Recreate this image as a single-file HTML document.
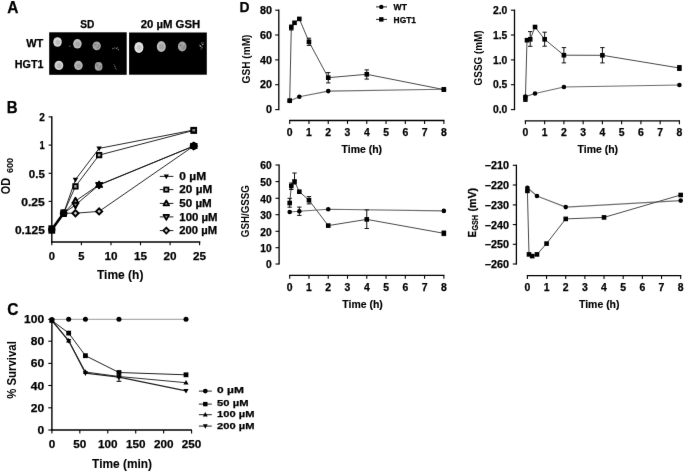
<!DOCTYPE html>
<html><head><meta charset="utf-8"><title>Figure</title>
<style>
html,body{margin:0;padding:0;background:#fff;}
svg{display:block;font-family:"Liberation Sans", sans-serif;}
#w{filter:grayscale(1);width:685px;height:472px;}
</style></head>
<body><div id="w">
<svg width="685" height="472" viewBox="0 0 685 472">
<defs><filter id="gb" x="0" y="0" width="100%" height="100%" filterUnits="userSpaceOnUse" color-interpolation-filters="sRGB"><feConvolveMatrix order="3" kernelMatrix="0.0028 0.0470 0.0028 0.0470 0.8008 0.0470 0.0028 0.0470 0.0028" edgeMode="duplicate"/></filter></defs>
<g filter="url(#gb)">
<rect x="0" y="0" width="685" height="472" fill="#fff"/>
<text x="7.2" y="12.7" font-size="16.8" font-weight="bold" fill="#000" stroke="#000" stroke-width="0.25" textLength="11.2" lengthAdjust="spacingAndGlyphs">A</text>
<text x="80.3" y="28.1" font-size="11.2" font-weight="bold" fill="#000" stroke="#000" stroke-width="0.25" textLength="14.1" lengthAdjust="spacingAndGlyphs">SD</text>
<text x="140.7" y="27.9" font-size="11.2" font-weight="bold" fill="#000" stroke="#000" stroke-width="0.25" textLength="59.5" lengthAdjust="spacingAndGlyphs">20 µM GSH</text>
<text x="26.2" y="46.7" font-size="11.5" font-weight="bold" fill="#000" stroke="#000" stroke-width="0.25" textLength="17.2" lengthAdjust="spacingAndGlyphs">WT</text>
<text x="14.8" y="67.7" font-size="11.5" font-weight="bold" fill="#000" stroke="#000" stroke-width="0.25" textLength="28.6" lengthAdjust="spacingAndGlyphs">HGT1</text>
<rect x="49.2" y="32.3" width="77.5" height="42.5" fill="#000"/>
<rect x="129.1" y="32.5" width="77.7" height="42.2" fill="#000"/>
<defs><filter id="sb" x="-50%" y="-50%" width="200%" height="200%"><feGaussianBlur stdDeviation="0.45"/></filter></defs>
<g filter="url(#sb)">
<ellipse cx="57.5" cy="42" rx="4.3" ry="4.8" fill="#d8d8d8"/>
<ellipse cx="57.8" cy="42.3" rx="2.37" ry="2.64" fill="#bcbcbc"/>
<ellipse cx="77.4" cy="43.8" rx="4.3" ry="4.8" fill="#bdbdbd"/>
<ellipse cx="77.7" cy="44.1" rx="2.37" ry="2.64" fill="#a6a6a6"/>
<ellipse cx="96.7" cy="45.8" rx="4.2" ry="4.4" fill="#a2a2a2"/>
<ellipse cx="97" cy="46.1" rx="2.31" ry="2.42" fill="#929292"/>
<circle cx="94.9" cy="44.6" r="0.9" fill="#808080"/>
<circle cx="98.2" cy="47.4" r="0.8" fill="#858585"/>
<circle cx="97.9" cy="43.8" r="0.7" fill="#b8b8b8"/>
<circle cx="95.5" cy="48" r="0.7" fill="#b0b0b0"/>
<circle cx="96.9" cy="45.9" r="0.8" fill="#aaaaaa"/>
<circle cx="94.5" cy="46.8" r="0.6" fill="#b2b2b2"/>
<circle cx="99" cy="45.5" r="0.6" fill="#7a7a7a"/>
<ellipse cx="58.9" cy="65.4" rx="4.4" ry="4.7" fill="#d2d2d2"/>
<ellipse cx="59.2" cy="65.7" rx="2.42" ry="2.59" fill="#b8b8b8"/>
<ellipse cx="78.4" cy="65.4" rx="4.3" ry="4.6" fill="#b5b5b5"/>
<ellipse cx="78.7" cy="65.7" rx="2.37" ry="2.53" fill="#a0a0a0"/>
<ellipse cx="98.6" cy="66.4" rx="3.9" ry="4.3" fill="#9e9e9e"/>
<ellipse cx="98.9" cy="66.7" rx="2.15" ry="2.37" fill="#8e8e8e"/>
<circle cx="96.8" cy="65.2" r="0.9" fill="#808080"/>
<circle cx="100.1" cy="68" r="0.8" fill="#858585"/>
<circle cx="99.8" cy="64.4" r="0.7" fill="#b8b8b8"/>
<circle cx="97.4" cy="68.6" r="0.7" fill="#b0b0b0"/>
<circle cx="98.8" cy="66.5" r="0.8" fill="#aaaaaa"/>
<circle cx="96.4" cy="67.4" r="0.6" fill="#b2b2b2"/>
<circle cx="100.9" cy="66.1" r="0.6" fill="#7a7a7a"/>
<ellipse cx="138.9" cy="47.4" rx="4.5" ry="5.5" fill="#e2e2e2"/>
<ellipse cx="139.2" cy="47.7" rx="2.48" ry="3.03" fill="#cacaca"/>
<ellipse cx="161.3" cy="46.5" rx="4.5" ry="5.4" fill="#b9b9b9"/>
<ellipse cx="161.6" cy="46.8" rx="2.48" ry="2.97" fill="#a4a4a4"/>
<ellipse cx="182.2" cy="46.5" rx="4.3" ry="5" fill="#a0a0a0"/>
<ellipse cx="182.5" cy="46.8" rx="2.37" ry="2.75" fill="#909090"/>
<circle cx="180.4" cy="45.3" r="0.9" fill="#808080"/>
<circle cx="183.7" cy="48.1" r="0.8" fill="#858585"/>
<circle cx="183.4" cy="44.5" r="0.7" fill="#b8b8b8"/>
<circle cx="181" cy="48.7" r="0.7" fill="#b0b0b0"/>
<circle cx="182.4" cy="46.6" r="0.8" fill="#aaaaaa"/>
<circle cx="180" cy="47.5" r="0.6" fill="#b2b2b2"/>
<circle cx="184.5" cy="46.2" r="0.6" fill="#7a7a7a"/>
<circle cx="112.9" cy="48.6" r="0.8" fill="#6a6a6a"/>
<circle cx="114.6" cy="48" r="0.7" fill="#5a5a5a"/>
<circle cx="116.6" cy="48.4" r="0.8" fill="#777"/>
<circle cx="118.4" cy="49.6" r="0.8" fill="#6a6a6a"/>
<circle cx="117.6" cy="47.4" r="0.5" fill="#555"/>
<circle cx="114" cy="64.3" r="0.6" fill="#555"/>
<circle cx="114.9" cy="66.3" r="0.8" fill="#6a6a6a"/>
<circle cx="115.6" cy="68.2" r="0.7" fill="#5c5c5c"/>
<circle cx="116.4" cy="69.4" r="0.5" fill="#4a4a4a"/>
<circle cx="201.8" cy="43" r="0.7" fill="#8a8a8a"/>
<circle cx="202.8" cy="44.6" r="0.8" fill="#9a9a9a"/>
<circle cx="200.6" cy="46.2" r="0.9" fill="#a0a0a0"/>
<circle cx="202" cy="47.8" r="0.7" fill="#8a8a8a"/>
<circle cx="201" cy="49" r="0.6" fill="#777"/>
<circle cx="203.6" cy="42.8" r="0.5" fill="#777"/>
<circle cx="199.6" cy="45" r="0.5" fill="#888"/>
<circle cx="69.7" cy="46.3" r="0.8" fill="#555"/>
</g>
<text x="6.7" y="112.6" font-size="15.6" font-weight="bold" fill="#000" stroke="#000" stroke-width="0.25" textLength="10.8" lengthAdjust="spacingAndGlyphs">B</text>
<line x1="51.8" y1="116.2" x2="51.8" y2="242.7" stroke="#000" stroke-width="1.4"/>
<line x1="51.1" y1="242" x2="200.3" y2="242" stroke="#000" stroke-width="1.4"/>
<line x1="48.6" y1="116.9" x2="51.8" y2="116.9" stroke="#000" stroke-width="1.1"/>
<text x="44.8" y="121.1" font-size="11.1" font-weight="bold" fill="#000" stroke="#000" stroke-width="0.25" text-anchor="end" textLength="5.6" lengthAdjust="spacingAndGlyphs">2</text>
<line x1="48.6" y1="145.1" x2="51.8" y2="145.1" stroke="#000" stroke-width="1.1"/>
<text x="44.8" y="149.3" font-size="11.1" font-weight="bold" fill="#000" stroke="#000" stroke-width="0.25" text-anchor="end" textLength="5.2" lengthAdjust="spacingAndGlyphs">1</text>
<line x1="48.6" y1="173.3" x2="51.8" y2="173.3" stroke="#000" stroke-width="1.1"/>
<text x="44.8" y="177.5" font-size="11.1" font-weight="bold" fill="#000" stroke="#000" stroke-width="0.25" text-anchor="end" textLength="16" lengthAdjust="spacingAndGlyphs">0.5</text>
<line x1="48.6" y1="201.4" x2="51.8" y2="201.4" stroke="#000" stroke-width="1.1"/>
<text x="44.8" y="205.6" font-size="11.1" font-weight="bold" fill="#000" stroke="#000" stroke-width="0.25" text-anchor="end" textLength="23.6" lengthAdjust="spacingAndGlyphs">0.25</text>
<line x1="48.6" y1="229.6" x2="51.8" y2="229.6" stroke="#000" stroke-width="1.1"/>
<text x="44.8" y="233.8" font-size="11.1" font-weight="bold" fill="#000" stroke="#000" stroke-width="0.25" text-anchor="end" textLength="29.9" lengthAdjust="spacingAndGlyphs">0.125</text>
<line x1="51.8" y1="242" x2="51.8" y2="245.3" stroke="#000" stroke-width="1.1"/>
<text x="51.8" y="260" font-size="11.4" font-weight="bold" fill="#000" stroke="#000" stroke-width="0.25" text-anchor="middle" textLength="6.2" lengthAdjust="spacingAndGlyphs">0</text>
<line x1="81.4" y1="242" x2="81.4" y2="245.3" stroke="#000" stroke-width="1.1"/>
<text x="81.4" y="260" font-size="11.4" font-weight="bold" fill="#000" stroke="#000" stroke-width="0.25" text-anchor="middle" textLength="6.2" lengthAdjust="spacingAndGlyphs">5</text>
<line x1="111" y1="242" x2="111" y2="245.3" stroke="#000" stroke-width="1.1"/>
<text x="111" y="260" font-size="11.4" font-weight="bold" fill="#000" stroke="#000" stroke-width="0.25" text-anchor="middle" textLength="13" lengthAdjust="spacingAndGlyphs">10</text>
<line x1="140.5" y1="242" x2="140.5" y2="245.3" stroke="#000" stroke-width="1.1"/>
<text x="140.5" y="260" font-size="11.4" font-weight="bold" fill="#000" stroke="#000" stroke-width="0.25" text-anchor="middle" textLength="13" lengthAdjust="spacingAndGlyphs">15</text>
<line x1="170.1" y1="242" x2="170.1" y2="245.3" stroke="#000" stroke-width="1.1"/>
<text x="170.1" y="260" font-size="11.4" font-weight="bold" fill="#000" stroke="#000" stroke-width="0.25" text-anchor="middle" textLength="13" lengthAdjust="spacingAndGlyphs">20</text>
<line x1="199.6" y1="242" x2="199.6" y2="245.3" stroke="#000" stroke-width="1.1"/>
<text x="199.6" y="260" font-size="11.4" font-weight="bold" fill="#000" stroke="#000" stroke-width="0.25" text-anchor="middle" textLength="13" lengthAdjust="spacingAndGlyphs">25</text>
<text x="97" y="278.8" font-size="12.3" font-weight="bold" fill="#000" stroke="#000" stroke-width="0.1" textLength="46.4" lengthAdjust="spacingAndGlyphs">Time (h)</text>
<text x="0" y="0" font-size="12" font-weight="bold" text-anchor="middle" textLength="16.3" lengthAdjust="spacingAndGlyphs" transform="translate(10.3,186) rotate(-90)">OD</text>
<text x="0" y="0" font-size="8.3" font-weight="bold" text-anchor="middle" textLength="15.2" lengthAdjust="spacingAndGlyphs" transform="translate(13.1,165.5) rotate(-90)">600</text>
<polyline points="51.8,229.5 63.63,213.2 75.46,179.6 99.12,148.4 193.76,130" fill="none" stroke="#111" stroke-width="0.9" stroke-linejoin="round"/>
<polyline points="51.8,229.5 63.63,213.2 75.46,186.4 99.12,155.1 193.76,130.4" fill="none" stroke="#111" stroke-width="0.9" stroke-linejoin="round"/>
<polyline points="51.8,229.5 63.63,213.2 75.46,201 99.12,184.8 193.76,146" fill="none" stroke="#111" stroke-width="0.9" stroke-linejoin="round"/>
<polyline points="51.8,229.5 63.63,213.2 75.46,205 99.12,185 193.76,146" fill="none" stroke="#111" stroke-width="0.9" stroke-linejoin="round"/>
<polyline points="51.8,229.5 63.63,213.2 75.46,213.2 99.12,211.4 193.76,146" fill="none" stroke="#111" stroke-width="0.9" stroke-linejoin="round"/>
<line x1="51.8" y1="229.5" x2="63.63" y2="213.2" stroke="#000" stroke-width="2.6"/>
<circle cx="51.8" cy="229.5" r="3.6" fill="#000"/>
<rect x="48.4" y="225.3" width="6.8" height="8.4" fill="#000"/>
<circle cx="63.63" cy="213.2" r="3.8" fill="#000"/>
<rect x="60.43" y="209.4" width="6.4" height="7.6" fill="#000"/>
<polygon points="75.46,182.52 78.16,177.66 72.76,177.66" fill="#000"/>
<polygon points="99.12,151.32 101.82,146.46 96.42,146.46" fill="#000"/>
<polygon points="193.76,132.92 196.46,128.06 191.06,128.06" fill="#000"/>
<rect x="73.26" y="184.2" width="4.4" height="4.4" fill="#a8a8a8" stroke="#000" stroke-width="1.9"/>
<rect x="96.92" y="152.9" width="4.4" height="4.4" fill="#a8a8a8" stroke="#000" stroke-width="1.9"/>
<rect x="191.56" y="128.2" width="4.4" height="4.4" fill="#a8a8a8" stroke="#000" stroke-width="1.9"/>
<polygon points="75.46,197.81 78.41,203.12 72.51,203.12" fill="#8a8a8a" stroke="#000" stroke-width="1.9" stroke-linejoin="round"/>
<polygon points="99.12,181.61 102.07,186.92 96.17,186.92" fill="#8a8a8a" stroke="#000" stroke-width="1.9" stroke-linejoin="round"/>
<polygon points="193.76,142.81 196.71,148.12 190.81,148.12" fill="#8a8a8a" stroke="#000" stroke-width="1.9" stroke-linejoin="round"/>
<polygon points="75.46,208.19 78.41,202.88 72.51,202.88" fill="#8a8a8a" stroke="#000" stroke-width="1.9" stroke-linejoin="round"/>
<polygon points="99.12,188.19 102.07,182.88 96.17,182.88" fill="#8a8a8a" stroke="#000" stroke-width="1.9" stroke-linejoin="round"/>
<polygon points="193.76,149.19 196.71,143.88 190.81,143.88" fill="#8a8a8a" stroke="#000" stroke-width="1.9" stroke-linejoin="round"/>
<polygon points="75.46,210.1 78.56,213.2 75.46,216.3 72.36,213.2" fill="#c4c4c4" stroke="#000" stroke-width="1.9"/>
<polygon points="99.12,208.3 102.22,211.4 99.12,214.5 96.02,211.4" fill="#c4c4c4" stroke="#000" stroke-width="1.9"/>
<polygon points="193.76,142.9 196.86,146 193.76,149.1 190.66,146" fill="#c4c4c4" stroke="#000" stroke-width="1.9"/>
<polygon points="99.12,180.91 102.72,187.39 95.52,187.39" fill="#000"/>
<polygon points="99.12,188.89 102.72,182.41 95.52,182.41" fill="#000"/>
<rect x="190.46" y="126.9" width="6.6" height="6.8" fill="#000"/>
<rect x="192.36" y="129" width="2.8" height="2.4" fill="#888"/>
<circle cx="193.76" cy="146" r="3.7" fill="#000"/>
<line x1="159.8" y1="176.4" x2="173.4" y2="176.4" stroke="#222" stroke-width="1"/>
<polygon points="166.3,179.17 168.87,174.55 163.74,174.55" fill="#000"/>
<text x="179.3" y="179.9" font-size="10" font-weight="bold" fill="#000" stroke="#000" stroke-width="0.25" textLength="26.8" lengthAdjust="spacingAndGlyphs">0 µM</text>
<line x1="159.8" y1="189.6" x2="173.4" y2="189.6" stroke="#222" stroke-width="1"/>
<rect x="164.16" y="187.46" width="4.28" height="4.28" fill="#a8a8a8" stroke="#000" stroke-width="1.7"/>
<text x="179.3" y="192.9" font-size="10" font-weight="bold" fill="#000" stroke="#000" stroke-width="0.25" textLength="32.9" lengthAdjust="spacingAndGlyphs">20 µM</text>
<line x1="159.8" y1="203.4" x2="173.4" y2="203.4" stroke="#222" stroke-width="1"/>
<polygon points="166.3,200.37 169.1,205.42 163.5,205.42" fill="#8a8a8a" stroke="#000" stroke-width="1.7" stroke-linejoin="round"/>
<text x="179.3" y="206.8" font-size="10" font-weight="bold" fill="#000" stroke="#000" stroke-width="0.25" textLength="32.5" lengthAdjust="spacingAndGlyphs">50 µM</text>
<line x1="159.8" y1="216.9" x2="173.4" y2="216.9" stroke="#222" stroke-width="1"/>
<polygon points="166.3,219.93 169.1,214.88 163.5,214.88" fill="#8a8a8a" stroke="#000" stroke-width="1.7" stroke-linejoin="round"/>
<text x="179.3" y="220.6" font-size="10" font-weight="bold" fill="#000" stroke="#000" stroke-width="0.25" textLength="38.2" lengthAdjust="spacingAndGlyphs">100 µM</text>
<line x1="159.8" y1="230.6" x2="173.4" y2="230.6" stroke="#222" stroke-width="1"/>
<polygon points="166.3,227.66 169.25,230.6 166.3,233.54 163.36,230.6" fill="#c4c4c4" stroke="#000" stroke-width="1.7"/>
<text x="179.3" y="234" font-size="10" font-weight="bold" fill="#000" stroke="#000" stroke-width="0.25" textLength="37.7" lengthAdjust="spacingAndGlyphs">200 µM</text>
<text x="7.3" y="315" font-size="15.6" font-weight="bold" fill="#000" stroke="#000" stroke-width="0.25" textLength="11.2" lengthAdjust="spacingAndGlyphs">C</text>
<line x1="51.9" y1="318.8" x2="51.9" y2="430.7" stroke="#000" stroke-width="1.4"/>
<line x1="51.2" y1="430" x2="191.9" y2="430" stroke="#000" stroke-width="1.4"/>
<line x1="48.3" y1="319.4" x2="51.9" y2="319.4" stroke="#000" stroke-width="1.1"/>
<text x="44.2" y="323.4" font-size="11.4" font-weight="bold" fill="#000" stroke="#000" stroke-width="0.25" text-anchor="end" textLength="20.1" lengthAdjust="spacingAndGlyphs">100</text>
<line x1="48.3" y1="341.2" x2="51.9" y2="341.2" stroke="#000" stroke-width="1.1"/>
<text x="44.2" y="345.2" font-size="11.4" font-weight="bold" fill="#000" stroke="#000" stroke-width="0.25" text-anchor="end" textLength="13.4" lengthAdjust="spacingAndGlyphs">80</text>
<line x1="48.3" y1="363.4" x2="51.9" y2="363.4" stroke="#000" stroke-width="1.1"/>
<text x="44.2" y="367.4" font-size="11.4" font-weight="bold" fill="#000" stroke="#000" stroke-width="0.25" text-anchor="end" textLength="13.4" lengthAdjust="spacingAndGlyphs">60</text>
<line x1="48.3" y1="385.5" x2="51.9" y2="385.5" stroke="#000" stroke-width="1.1"/>
<text x="44.2" y="389.5" font-size="11.4" font-weight="bold" fill="#000" stroke="#000" stroke-width="0.25" text-anchor="end" textLength="13.4" lengthAdjust="spacingAndGlyphs">40</text>
<line x1="48.3" y1="407.8" x2="51.9" y2="407.8" stroke="#000" stroke-width="1.1"/>
<text x="44.2" y="411.8" font-size="11.4" font-weight="bold" fill="#000" stroke="#000" stroke-width="0.25" text-anchor="end" textLength="13.4" lengthAdjust="spacingAndGlyphs">20</text>
<line x1="48.3" y1="430" x2="51.9" y2="430" stroke="#000" stroke-width="1.1"/>
<text x="44.2" y="434" font-size="11.4" font-weight="bold" fill="#000" stroke="#000" stroke-width="0.25" text-anchor="end" textLength="6.7" lengthAdjust="spacingAndGlyphs">0</text>
<line x1="51.9" y1="430" x2="51.9" y2="433.6" stroke="#000" stroke-width="1.1"/>
<text x="51.9" y="448" font-size="11.4" font-weight="bold" fill="#000" stroke="#000" stroke-width="0.25" text-anchor="middle" textLength="6.5" lengthAdjust="spacingAndGlyphs">0</text>
<line x1="79.84" y1="430" x2="79.84" y2="433.6" stroke="#000" stroke-width="1.1"/>
<text x="79.84" y="448" font-size="11.4" font-weight="bold" fill="#000" stroke="#000" stroke-width="0.25" text-anchor="middle" textLength="13" lengthAdjust="spacingAndGlyphs">50</text>
<line x1="107.78" y1="430" x2="107.78" y2="433.6" stroke="#000" stroke-width="1.1"/>
<text x="107.78" y="448" font-size="11.4" font-weight="bold" fill="#000" stroke="#000" stroke-width="0.25" text-anchor="middle" textLength="19.5" lengthAdjust="spacingAndGlyphs">100</text>
<line x1="135.72" y1="430" x2="135.72" y2="433.6" stroke="#000" stroke-width="1.1"/>
<text x="135.72" y="448" font-size="11.4" font-weight="bold" fill="#000" stroke="#000" stroke-width="0.25" text-anchor="middle" textLength="19.5" lengthAdjust="spacingAndGlyphs">150</text>
<line x1="163.66" y1="430" x2="163.66" y2="433.6" stroke="#000" stroke-width="1.1"/>
<text x="163.66" y="448" font-size="11.4" font-weight="bold" fill="#000" stroke="#000" stroke-width="0.25" text-anchor="middle" textLength="19.5" lengthAdjust="spacingAndGlyphs">200</text>
<line x1="191.6" y1="430" x2="191.6" y2="433.6" stroke="#000" stroke-width="1.1"/>
<text x="191.6" y="448" font-size="11.4" font-weight="bold" fill="#000" stroke="#000" stroke-width="0.25" text-anchor="middle" textLength="19.5" lengthAdjust="spacingAndGlyphs">250</text>
<text x="92.1" y="467.5" font-size="12" font-weight="bold" fill="#000" stroke="#000" stroke-width="0.1" textLength="59.9" lengthAdjust="spacingAndGlyphs">Time (min)</text>
<text x="0" y="0" font-size="12" font-weight="bold" text-anchor="middle" textLength="57.7" lengthAdjust="spacingAndGlyphs" transform="translate(16.3,370) rotate(-90)">% Survival</text>
<polyline points="51.9,319.5 68.66,319.3 85.43,319.3 118.96,319.3 186.01,319.3" fill="none" stroke="#9a9a9a" stroke-width="1" stroke-linejoin="round"/>
<polyline points="51.9,320.5 68.66,333.1 85.43,355.7 118.96,372.5 186.01,374.8" fill="none" stroke="#222" stroke-width="1" stroke-linejoin="round"/>
<polyline points="51.9,320.5 68.66,340.6 85.43,372 118.96,376.5 186.01,382.7" fill="none" stroke="#333" stroke-width="1" stroke-linejoin="round"/>
<polyline points="51.9,320.5 68.66,340.8 85.43,373.2 118.96,377.2 186.01,390.8" fill="none" stroke="#222" stroke-width="1.2" stroke-linejoin="round"/>
<line x1="118.96" y1="376" x2="118.96" y2="381.3" stroke="#000" stroke-width="1"/>
<line x1="116.56" y1="376" x2="121.36" y2="376" stroke="#000" stroke-width="1"/>
<line x1="116.56" y1="381.3" x2="121.36" y2="381.3" stroke="#000" stroke-width="1"/>
<circle cx="51.9" cy="319.5" r="2.5" fill="#000"/>
<circle cx="68.66" cy="319.3" r="2.5" fill="#000"/>
<circle cx="85.43" cy="319.3" r="2.5" fill="#000"/>
<circle cx="118.96" cy="319.3" r="2.5" fill="#000"/>
<circle cx="186.01" cy="319.3" r="2.5" fill="#000"/>
<rect x="49.5" y="318.1" width="4.8" height="4.8" fill="#000"/>
<rect x="66.26" y="330.7" width="4.8" height="4.8" fill="#000"/>
<rect x="83.03" y="353.3" width="4.8" height="4.8" fill="#000"/>
<rect x="116.56" y="370.1" width="4.8" height="4.8" fill="#000"/>
<rect x="183.61" y="372.4" width="4.8" height="4.8" fill="#000"/>
<polygon points="51.9,317.69 54.5,322.37 49.3,322.37" fill="#000"/>
<polygon points="68.66,337.79 71.26,342.47 66.06,342.47" fill="#000"/>
<polygon points="85.43,369.19 88.03,373.87 82.83,373.87" fill="#000"/>
<polygon points="118.96,373.69 121.56,378.37 116.36,378.37" fill="#000"/>
<polygon points="186.01,379.89 188.61,384.57 183.41,384.57" fill="#000"/>
<polygon points="51.9,323.31 54.5,318.63 49.3,318.63" fill="#000"/>
<polygon points="68.66,343.61 71.26,338.93 66.06,338.93" fill="#000"/>
<polygon points="85.43,376.01 88.03,371.33 82.83,371.33" fill="#000"/>
<polygon points="118.96,380.01 121.56,375.33 116.36,375.33" fill="#000"/>
<polygon points="186.01,393.61 188.61,388.93 183.41,388.93" fill="#000"/>
<line x1="198.9" y1="391.1" x2="211.8" y2="391.1" stroke="#222" stroke-width="1"/>
<circle cx="205.3" cy="391.1" r="2.4" fill="#000"/>
<text x="217.1" y="393.4" font-size="9.8" font-weight="bold" fill="#000" stroke="#000" stroke-width="0.25" textLength="26.8" lengthAdjust="spacingAndGlyphs">0 µM</text>
<line x1="198.9" y1="404.1" x2="211.8" y2="404.1" stroke="#222" stroke-width="1"/>
<rect x="203.1" y="401.9" width="4.4" height="4.4" fill="#000"/>
<text x="217.1" y="405.9" font-size="9.8" font-weight="bold" fill="#000" stroke="#000" stroke-width="0.25" textLength="31.4" lengthAdjust="spacingAndGlyphs">50 µM</text>
<line x1="198.9" y1="414.7" x2="211.8" y2="414.7" stroke="#222" stroke-width="1"/>
<polygon points="205.3,412.11 207.7,416.43 202.9,416.43" fill="#000"/>
<text x="217.1" y="417.1" font-size="9.8" font-weight="bold" fill="#000" stroke="#000" stroke-width="0.25" textLength="37.3" lengthAdjust="spacingAndGlyphs">100 µM</text>
<line x1="198.9" y1="426.1" x2="211.8" y2="426.1" stroke="#222" stroke-width="1"/>
<polygon points="205.3,428.69 207.7,424.37 202.9,424.37" fill="#000"/>
<text x="217.1" y="429.2" font-size="9.8" font-weight="bold" fill="#000" stroke="#000" stroke-width="0.25" textLength="37.3" lengthAdjust="spacingAndGlyphs">200 µM</text>
<text x="239.4" y="12.4" font-size="15.4" font-weight="bold" fill="#000" stroke="#000" stroke-width="0.25" textLength="10" lengthAdjust="spacingAndGlyphs">D</text>
<line x1="278.8" y1="9.6" x2="278.8" y2="110.2" stroke="#000" stroke-width="1.3"/>
<line x1="275.2" y1="10.2" x2="278.8" y2="10.2" stroke="#000" stroke-width="1.1"/>
<text x="272" y="13.8" font-size="10.2" font-weight="bold" fill="#000" stroke="#000" stroke-width="0.25" text-anchor="end" textLength="12" lengthAdjust="spacingAndGlyphs">80</text>
<line x1="275.2" y1="35" x2="278.8" y2="35" stroke="#000" stroke-width="1.1"/>
<text x="272" y="38.6" font-size="10.2" font-weight="bold" fill="#000" stroke="#000" stroke-width="0.25" text-anchor="end" textLength="12" lengthAdjust="spacingAndGlyphs">60</text>
<line x1="275.2" y1="59.9" x2="278.8" y2="59.9" stroke="#000" stroke-width="1.1"/>
<text x="272" y="63.5" font-size="10.2" font-weight="bold" fill="#000" stroke="#000" stroke-width="0.25" text-anchor="end" textLength="12" lengthAdjust="spacingAndGlyphs">40</text>
<line x1="275.2" y1="84.7" x2="278.8" y2="84.7" stroke="#000" stroke-width="1.1"/>
<text x="272" y="88.3" font-size="10.2" font-weight="bold" fill="#000" stroke="#000" stroke-width="0.25" text-anchor="end" textLength="12" lengthAdjust="spacingAndGlyphs">20</text>
<line x1="275.2" y1="109.6" x2="278.8" y2="109.6" stroke="#000" stroke-width="1.1"/>
<text x="272" y="113.2" font-size="10.2" font-weight="bold" fill="#000" stroke="#000" stroke-width="0.25" text-anchor="end" textLength="6" lengthAdjust="spacingAndGlyphs">0</text>
<line x1="289.1" y1="120.5" x2="444.46" y2="120.5" stroke="#000" stroke-width="1.3"/>
<line x1="289.7" y1="120.5" x2="289.7" y2="123.9" stroke="#000" stroke-width="1.1"/>
<text x="289.7" y="136.2" font-size="10.4" font-weight="bold" fill="#000" stroke="#000" stroke-width="0.25" text-anchor="middle" textLength="5.8" lengthAdjust="spacingAndGlyphs">0</text>
<line x1="308.97" y1="120.5" x2="308.97" y2="123.9" stroke="#000" stroke-width="1.1"/>
<text x="308.97" y="136.2" font-size="10.4" font-weight="bold" fill="#000" stroke="#000" stroke-width="0.25" text-anchor="middle" textLength="5.8" lengthAdjust="spacingAndGlyphs">1</text>
<line x1="328.24" y1="120.5" x2="328.24" y2="123.9" stroke="#000" stroke-width="1.1"/>
<text x="328.24" y="136.2" font-size="10.4" font-weight="bold" fill="#000" stroke="#000" stroke-width="0.25" text-anchor="middle" textLength="5.8" lengthAdjust="spacingAndGlyphs">2</text>
<line x1="347.51" y1="120.5" x2="347.51" y2="123.9" stroke="#000" stroke-width="1.1"/>
<text x="347.51" y="136.2" font-size="10.4" font-weight="bold" fill="#000" stroke="#000" stroke-width="0.25" text-anchor="middle" textLength="5.8" lengthAdjust="spacingAndGlyphs">3</text>
<line x1="366.78" y1="120.5" x2="366.78" y2="123.9" stroke="#000" stroke-width="1.1"/>
<text x="366.78" y="136.2" font-size="10.4" font-weight="bold" fill="#000" stroke="#000" stroke-width="0.25" text-anchor="middle" textLength="5.8" lengthAdjust="spacingAndGlyphs">4</text>
<line x1="386.05" y1="120.5" x2="386.05" y2="123.9" stroke="#000" stroke-width="1.1"/>
<text x="386.05" y="136.2" font-size="10.4" font-weight="bold" fill="#000" stroke="#000" stroke-width="0.25" text-anchor="middle" textLength="5.8" lengthAdjust="spacingAndGlyphs">5</text>
<line x1="405.32" y1="120.5" x2="405.32" y2="123.9" stroke="#000" stroke-width="1.1"/>
<text x="405.32" y="136.2" font-size="10.4" font-weight="bold" fill="#000" stroke="#000" stroke-width="0.25" text-anchor="middle" textLength="5.8" lengthAdjust="spacingAndGlyphs">6</text>
<line x1="424.59" y1="120.5" x2="424.59" y2="123.9" stroke="#000" stroke-width="1.1"/>
<text x="424.59" y="136.2" font-size="10.4" font-weight="bold" fill="#000" stroke="#000" stroke-width="0.25" text-anchor="middle" textLength="5.8" lengthAdjust="spacingAndGlyphs">7</text>
<line x1="443.86" y1="120.5" x2="443.86" y2="123.9" stroke="#000" stroke-width="1.1"/>
<text x="443.86" y="136.2" font-size="10.4" font-weight="bold" fill="#000" stroke="#000" stroke-width="0.25" text-anchor="middle" textLength="5.8" lengthAdjust="spacingAndGlyphs">8</text>
<text x="341.6" y="153.2" font-size="10.3" font-weight="bold" fill="#000" stroke="#000" stroke-width="0.15" textLength="40.5" lengthAdjust="spacingAndGlyphs">Time (h)</text>
<text x="0" y="0" font-size="11" font-weight="bold" text-anchor="middle" textLength="48.8" lengthAdjust="spacingAndGlyphs" transform="translate(249.9,59) rotate(-90)">GSH (mM)</text>
<line x1="514.5" y1="9.6" x2="514.5" y2="110.2" stroke="#000" stroke-width="1.3"/>
<line x1="510.9" y1="10.2" x2="514.5" y2="10.2" stroke="#000" stroke-width="1.1"/>
<text x="507.3" y="13.8" font-size="10.2" font-weight="bold" fill="#000" stroke="#000" stroke-width="0.25" text-anchor="end" textLength="14.4" lengthAdjust="spacingAndGlyphs">2.0</text>
<line x1="510.9" y1="35" x2="514.5" y2="35" stroke="#000" stroke-width="1.1"/>
<text x="507.3" y="38.6" font-size="10.2" font-weight="bold" fill="#000" stroke="#000" stroke-width="0.25" text-anchor="end" textLength="14.4" lengthAdjust="spacingAndGlyphs">1.5</text>
<line x1="510.9" y1="59.9" x2="514.5" y2="59.9" stroke="#000" stroke-width="1.1"/>
<text x="507.3" y="63.5" font-size="10.2" font-weight="bold" fill="#000" stroke="#000" stroke-width="0.25" text-anchor="end" textLength="14.4" lengthAdjust="spacingAndGlyphs">1.0</text>
<line x1="510.9" y1="84.7" x2="514.5" y2="84.7" stroke="#000" stroke-width="1.1"/>
<text x="507.3" y="88.3" font-size="10.2" font-weight="bold" fill="#000" stroke="#000" stroke-width="0.25" text-anchor="end" textLength="14.4" lengthAdjust="spacingAndGlyphs">0.5</text>
<line x1="510.9" y1="109.6" x2="514.5" y2="109.6" stroke="#000" stroke-width="1.1"/>
<text x="507.3" y="113.2" font-size="10.2" font-weight="bold" fill="#000" stroke="#000" stroke-width="0.25" text-anchor="end" textLength="14.4" lengthAdjust="spacingAndGlyphs">0.0</text>
<line x1="524.8" y1="120.8" x2="680" y2="120.8" stroke="#000" stroke-width="1.3"/>
<line x1="525.4" y1="120.8" x2="525.4" y2="124.2" stroke="#000" stroke-width="1.1"/>
<text x="525.4" y="136.4" font-size="10.4" font-weight="bold" fill="#000" stroke="#000" stroke-width="0.25" text-anchor="middle" textLength="5.8" lengthAdjust="spacingAndGlyphs">0</text>
<line x1="544.65" y1="120.8" x2="544.65" y2="124.2" stroke="#000" stroke-width="1.1"/>
<text x="544.65" y="136.4" font-size="10.4" font-weight="bold" fill="#000" stroke="#000" stroke-width="0.25" text-anchor="middle" textLength="5.8" lengthAdjust="spacingAndGlyphs">1</text>
<line x1="563.9" y1="120.8" x2="563.9" y2="124.2" stroke="#000" stroke-width="1.1"/>
<text x="563.9" y="136.4" font-size="10.4" font-weight="bold" fill="#000" stroke="#000" stroke-width="0.25" text-anchor="middle" textLength="5.8" lengthAdjust="spacingAndGlyphs">2</text>
<line x1="583.15" y1="120.8" x2="583.15" y2="124.2" stroke="#000" stroke-width="1.1"/>
<text x="583.15" y="136.4" font-size="10.4" font-weight="bold" fill="#000" stroke="#000" stroke-width="0.25" text-anchor="middle" textLength="5.8" lengthAdjust="spacingAndGlyphs">3</text>
<line x1="602.4" y1="120.8" x2="602.4" y2="124.2" stroke="#000" stroke-width="1.1"/>
<text x="602.4" y="136.4" font-size="10.4" font-weight="bold" fill="#000" stroke="#000" stroke-width="0.25" text-anchor="middle" textLength="5.8" lengthAdjust="spacingAndGlyphs">4</text>
<line x1="621.65" y1="120.8" x2="621.65" y2="124.2" stroke="#000" stroke-width="1.1"/>
<text x="621.65" y="136.4" font-size="10.4" font-weight="bold" fill="#000" stroke="#000" stroke-width="0.25" text-anchor="middle" textLength="5.8" lengthAdjust="spacingAndGlyphs">5</text>
<line x1="640.9" y1="120.8" x2="640.9" y2="124.2" stroke="#000" stroke-width="1.1"/>
<text x="640.9" y="136.4" font-size="10.4" font-weight="bold" fill="#000" stroke="#000" stroke-width="0.25" text-anchor="middle" textLength="5.8" lengthAdjust="spacingAndGlyphs">6</text>
<line x1="660.15" y1="120.8" x2="660.15" y2="124.2" stroke="#000" stroke-width="1.1"/>
<text x="660.15" y="136.4" font-size="10.4" font-weight="bold" fill="#000" stroke="#000" stroke-width="0.25" text-anchor="middle" textLength="5.8" lengthAdjust="spacingAndGlyphs">7</text>
<line x1="679.4" y1="120.8" x2="679.4" y2="124.2" stroke="#000" stroke-width="1.1"/>
<text x="679.4" y="136.4" font-size="10.4" font-weight="bold" fill="#000" stroke="#000" stroke-width="0.25" text-anchor="middle" textLength="5.8" lengthAdjust="spacingAndGlyphs">8</text>
<text x="577.6" y="153" font-size="10.3" font-weight="bold" fill="#000" stroke="#000" stroke-width="0.15" textLength="40.5" lengthAdjust="spacingAndGlyphs">Time (h)</text>
<text x="0" y="0" font-size="11" font-weight="bold" text-anchor="middle" textLength="55.1" lengthAdjust="spacingAndGlyphs" transform="translate(482.2,57.9) rotate(-90)">GSSG (mM)</text>
<line x1="279.1" y1="164.4" x2="279.1" y2="264.6" stroke="#000" stroke-width="1.3"/>
<line x1="275.5" y1="165" x2="279.1" y2="165" stroke="#000" stroke-width="1.1"/>
<text x="271.6" y="169.4" font-size="10.2" font-weight="bold" fill="#000" stroke="#000" stroke-width="0.25" text-anchor="end" textLength="11.4" lengthAdjust="spacingAndGlyphs">60</text>
<line x1="275.5" y1="181.6" x2="279.1" y2="181.6" stroke="#000" stroke-width="1.1"/>
<text x="271.6" y="186" font-size="10.2" font-weight="bold" fill="#000" stroke="#000" stroke-width="0.25" text-anchor="end" textLength="11.4" lengthAdjust="spacingAndGlyphs">50</text>
<line x1="275.5" y1="198.3" x2="279.1" y2="198.3" stroke="#000" stroke-width="1.1"/>
<text x="271.6" y="202.7" font-size="10.2" font-weight="bold" fill="#000" stroke="#000" stroke-width="0.25" text-anchor="end" textLength="11.4" lengthAdjust="spacingAndGlyphs">40</text>
<line x1="275.5" y1="214.7" x2="279.1" y2="214.7" stroke="#000" stroke-width="1.1"/>
<text x="271.6" y="219.1" font-size="10.2" font-weight="bold" fill="#000" stroke="#000" stroke-width="0.25" text-anchor="end" textLength="11.4" lengthAdjust="spacingAndGlyphs">30</text>
<line x1="275.5" y1="231.3" x2="279.1" y2="231.3" stroke="#000" stroke-width="1.1"/>
<text x="271.6" y="235.7" font-size="10.2" font-weight="bold" fill="#000" stroke="#000" stroke-width="0.25" text-anchor="end" textLength="11.4" lengthAdjust="spacingAndGlyphs">20</text>
<line x1="275.5" y1="247.7" x2="279.1" y2="247.7" stroke="#000" stroke-width="1.1"/>
<text x="271.6" y="252.1" font-size="10.2" font-weight="bold" fill="#000" stroke="#000" stroke-width="0.25" text-anchor="end" textLength="11.4" lengthAdjust="spacingAndGlyphs">10</text>
<line x1="275.5" y1="264" x2="279.1" y2="264" stroke="#000" stroke-width="1.1"/>
<text x="271.6" y="268.4" font-size="10.2" font-weight="bold" fill="#000" stroke="#000" stroke-width="0.25" text-anchor="end" textLength="5.7" lengthAdjust="spacingAndGlyphs">0</text>
<line x1="289.1" y1="275.4" x2="444.46" y2="275.4" stroke="#000" stroke-width="1.3"/>
<line x1="289.7" y1="275.4" x2="289.7" y2="278.8" stroke="#000" stroke-width="1.1"/>
<text x="289.7" y="291.2" font-size="10.4" font-weight="bold" fill="#000" stroke="#000" stroke-width="0.25" text-anchor="middle" textLength="5.8" lengthAdjust="spacingAndGlyphs">0</text>
<line x1="308.97" y1="275.4" x2="308.97" y2="278.8" stroke="#000" stroke-width="1.1"/>
<text x="308.97" y="291.2" font-size="10.4" font-weight="bold" fill="#000" stroke="#000" stroke-width="0.25" text-anchor="middle" textLength="5.8" lengthAdjust="spacingAndGlyphs">1</text>
<line x1="328.24" y1="275.4" x2="328.24" y2="278.8" stroke="#000" stroke-width="1.1"/>
<text x="328.24" y="291.2" font-size="10.4" font-weight="bold" fill="#000" stroke="#000" stroke-width="0.25" text-anchor="middle" textLength="5.8" lengthAdjust="spacingAndGlyphs">2</text>
<line x1="347.51" y1="275.4" x2="347.51" y2="278.8" stroke="#000" stroke-width="1.1"/>
<text x="347.51" y="291.2" font-size="10.4" font-weight="bold" fill="#000" stroke="#000" stroke-width="0.25" text-anchor="middle" textLength="5.8" lengthAdjust="spacingAndGlyphs">3</text>
<line x1="366.78" y1="275.4" x2="366.78" y2="278.8" stroke="#000" stroke-width="1.1"/>
<text x="366.78" y="291.2" font-size="10.4" font-weight="bold" fill="#000" stroke="#000" stroke-width="0.25" text-anchor="middle" textLength="5.8" lengthAdjust="spacingAndGlyphs">4</text>
<line x1="386.05" y1="275.4" x2="386.05" y2="278.8" stroke="#000" stroke-width="1.1"/>
<text x="386.05" y="291.2" font-size="10.4" font-weight="bold" fill="#000" stroke="#000" stroke-width="0.25" text-anchor="middle" textLength="5.8" lengthAdjust="spacingAndGlyphs">5</text>
<line x1="405.32" y1="275.4" x2="405.32" y2="278.8" stroke="#000" stroke-width="1.1"/>
<text x="405.32" y="291.2" font-size="10.4" font-weight="bold" fill="#000" stroke="#000" stroke-width="0.25" text-anchor="middle" textLength="5.8" lengthAdjust="spacingAndGlyphs">6</text>
<line x1="424.59" y1="275.4" x2="424.59" y2="278.8" stroke="#000" stroke-width="1.1"/>
<text x="424.59" y="291.2" font-size="10.4" font-weight="bold" fill="#000" stroke="#000" stroke-width="0.25" text-anchor="middle" textLength="5.8" lengthAdjust="spacingAndGlyphs">7</text>
<line x1="443.86" y1="275.4" x2="443.86" y2="278.8" stroke="#000" stroke-width="1.1"/>
<text x="443.86" y="291.2" font-size="10.4" font-weight="bold" fill="#000" stroke="#000" stroke-width="0.25" text-anchor="middle" textLength="5.8" lengthAdjust="spacingAndGlyphs">8</text>
<text x="342.3" y="308.4" font-size="10.3" font-weight="bold" fill="#000" stroke="#000" stroke-width="0.15" textLength="40.5" lengthAdjust="spacingAndGlyphs">Time (h)</text>
<text x="0" y="0" font-size="11" font-weight="bold" text-anchor="middle" textLength="51.9" lengthAdjust="spacingAndGlyphs" transform="translate(248.6,211.2) rotate(-90)">GSH/GSSG</text>
<line x1="516.4" y1="164.7" x2="516.4" y2="264.6" stroke="#000" stroke-width="1.3"/>
<line x1="512.8" y1="165.3" x2="516.4" y2="165.3" stroke="#000" stroke-width="1.1"/>
<text x="509" y="169.4" font-size="10.2" font-weight="bold" fill="#000" stroke="#000" stroke-width="0.25" text-anchor="end" textLength="24" lengthAdjust="spacingAndGlyphs">–210</text>
<line x1="512.8" y1="185" x2="516.4" y2="185" stroke="#000" stroke-width="1.1"/>
<text x="509" y="189.1" font-size="10.2" font-weight="bold" fill="#000" stroke="#000" stroke-width="0.25" text-anchor="end" textLength="24" lengthAdjust="spacingAndGlyphs">–220</text>
<line x1="512.8" y1="204.9" x2="516.4" y2="204.9" stroke="#000" stroke-width="1.1"/>
<text x="509" y="209" font-size="10.2" font-weight="bold" fill="#000" stroke="#000" stroke-width="0.25" text-anchor="end" textLength="24" lengthAdjust="spacingAndGlyphs">–230</text>
<line x1="512.8" y1="224.6" x2="516.4" y2="224.6" stroke="#000" stroke-width="1.1"/>
<text x="509" y="228.7" font-size="10.2" font-weight="bold" fill="#000" stroke="#000" stroke-width="0.25" text-anchor="end" textLength="24" lengthAdjust="spacingAndGlyphs">–240</text>
<line x1="512.8" y1="244.3" x2="516.4" y2="244.3" stroke="#000" stroke-width="1.1"/>
<text x="509" y="248.4" font-size="10.2" font-weight="bold" fill="#000" stroke="#000" stroke-width="0.25" text-anchor="end" textLength="24" lengthAdjust="spacingAndGlyphs">–250</text>
<line x1="512.8" y1="264" x2="516.4" y2="264" stroke="#000" stroke-width="1.1"/>
<text x="509" y="268.1" font-size="10.2" font-weight="bold" fill="#000" stroke="#000" stroke-width="0.25" text-anchor="end" textLength="24" lengthAdjust="spacingAndGlyphs">–260</text>
<line x1="526.8" y1="275.6" x2="681.28" y2="275.6" stroke="#000" stroke-width="1.3"/>
<line x1="527.4" y1="275.6" x2="527.4" y2="279" stroke="#000" stroke-width="1.1"/>
<text x="527.4" y="291.4" font-size="10.4" font-weight="bold" fill="#000" stroke="#000" stroke-width="0.25" text-anchor="middle" textLength="5.8" lengthAdjust="spacingAndGlyphs">0</text>
<line x1="546.56" y1="275.6" x2="546.56" y2="279" stroke="#000" stroke-width="1.1"/>
<text x="546.56" y="291.4" font-size="10.4" font-weight="bold" fill="#000" stroke="#000" stroke-width="0.25" text-anchor="middle" textLength="5.8" lengthAdjust="spacingAndGlyphs">1</text>
<line x1="565.72" y1="275.6" x2="565.72" y2="279" stroke="#000" stroke-width="1.1"/>
<text x="565.72" y="291.4" font-size="10.4" font-weight="bold" fill="#000" stroke="#000" stroke-width="0.25" text-anchor="middle" textLength="5.8" lengthAdjust="spacingAndGlyphs">2</text>
<line x1="584.88" y1="275.6" x2="584.88" y2="279" stroke="#000" stroke-width="1.1"/>
<text x="584.88" y="291.4" font-size="10.4" font-weight="bold" fill="#000" stroke="#000" stroke-width="0.25" text-anchor="middle" textLength="5.8" lengthAdjust="spacingAndGlyphs">3</text>
<line x1="604.04" y1="275.6" x2="604.04" y2="279" stroke="#000" stroke-width="1.1"/>
<text x="604.04" y="291.4" font-size="10.4" font-weight="bold" fill="#000" stroke="#000" stroke-width="0.25" text-anchor="middle" textLength="5.8" lengthAdjust="spacingAndGlyphs">4</text>
<line x1="623.2" y1="275.6" x2="623.2" y2="279" stroke="#000" stroke-width="1.1"/>
<text x="623.2" y="291.4" font-size="10.4" font-weight="bold" fill="#000" stroke="#000" stroke-width="0.25" text-anchor="middle" textLength="5.8" lengthAdjust="spacingAndGlyphs">5</text>
<line x1="642.36" y1="275.6" x2="642.36" y2="279" stroke="#000" stroke-width="1.1"/>
<text x="642.36" y="291.4" font-size="10.4" font-weight="bold" fill="#000" stroke="#000" stroke-width="0.25" text-anchor="middle" textLength="5.8" lengthAdjust="spacingAndGlyphs">6</text>
<line x1="661.52" y1="275.6" x2="661.52" y2="279" stroke="#000" stroke-width="1.1"/>
<text x="661.52" y="291.4" font-size="10.4" font-weight="bold" fill="#000" stroke="#000" stroke-width="0.25" text-anchor="middle" textLength="5.8" lengthAdjust="spacingAndGlyphs">7</text>
<line x1="680.68" y1="275.6" x2="680.68" y2="279" stroke="#000" stroke-width="1.1"/>
<text x="680.68" y="291.4" font-size="10.4" font-weight="bold" fill="#000" stroke="#000" stroke-width="0.25" text-anchor="middle" textLength="5.8" lengthAdjust="spacingAndGlyphs">8</text>
<text x="579" y="307.9" font-size="10.3" font-weight="bold" fill="#000" stroke="#000" stroke-width="0.15" textLength="40.5" lengthAdjust="spacingAndGlyphs">Time (h)</text>
<g transform="translate(476.1,237.2) rotate(-90)"><text x="0" y="0" font-size="11" font-weight="bold" textLength="6.2" lengthAdjust="spacingAndGlyphs" stroke="#000" stroke-width="0.25">E</text><text x="6.6" y="2.3" font-size="8.2" font-weight="bold" textLength="15.6" lengthAdjust="spacingAndGlyphs" stroke="#000" stroke-width="0.2">GSH</text><text x="25.6" y="0" font-size="11" font-weight="bold" textLength="23.8" lengthAdjust="spacingAndGlyphs" stroke="#000" stroke-width="0.25">(mV)</text></g>
<polyline points="289.7,101 299.33,96.7 328.24,91.1 443.86,89.2" fill="none" stroke="#6e6e6e" stroke-width="1.15" stroke-linejoin="round"/>
<polyline points="289.7,100.6 291.3,27.4 294.52,22.8 299.33,18.9 308.97,41.8 328.24,77.7 366.78,74.3 443.86,89.6" fill="none" stroke="#4a4a4a" stroke-width="1" stroke-linejoin="round"/>
<line x1="291.3" y1="25" x2="291.3" y2="30" stroke="#111" stroke-width="1"/>
<line x1="289.1" y1="25" x2="293.5" y2="25" stroke="#111" stroke-width="1"/>
<line x1="289.1" y1="30" x2="293.5" y2="30" stroke="#111" stroke-width="1"/>
<line x1="308.97" y1="38.2" x2="308.97" y2="45.4" stroke="#111" stroke-width="1"/>
<line x1="306.77" y1="38.2" x2="311.17" y2="38.2" stroke="#111" stroke-width="1"/>
<line x1="306.77" y1="45.4" x2="311.17" y2="45.4" stroke="#111" stroke-width="1"/>
<line x1="328.24" y1="72.6" x2="328.24" y2="82.9" stroke="#111" stroke-width="1"/>
<line x1="326.04" y1="72.6" x2="330.44" y2="72.6" stroke="#111" stroke-width="1"/>
<line x1="326.04" y1="82.9" x2="330.44" y2="82.9" stroke="#111" stroke-width="1"/>
<line x1="366.78" y1="69.9" x2="366.78" y2="79.1" stroke="#111" stroke-width="1"/>
<line x1="364.58" y1="69.9" x2="368.98" y2="69.9" stroke="#111" stroke-width="1"/>
<line x1="364.58" y1="79.1" x2="368.98" y2="79.1" stroke="#111" stroke-width="1"/>
<line x1="443.86" y1="87.6" x2="443.86" y2="91.2" stroke="#111" stroke-width="1"/>
<line x1="441.66" y1="87.6" x2="446.06" y2="87.6" stroke="#111" stroke-width="1"/>
<line x1="441.66" y1="91.2" x2="446.06" y2="91.2" stroke="#111" stroke-width="1"/>
<circle cx="289.7" cy="101" r="2.3" fill="#000"/>
<circle cx="299.33" cy="96.7" r="2.3" fill="#000"/>
<circle cx="328.24" cy="91.1" r="2.3" fill="#000"/>
<circle cx="443.86" cy="89.2" r="2.3" fill="#000"/>
<rect x="287.4" y="98.3" width="4.6" height="4.6" fill="#000"/>
<rect x="289" y="25.1" width="4.6" height="4.6" fill="#000"/>
<rect x="292.22" y="20.5" width="4.6" height="4.6" fill="#000"/>
<rect x="297.03" y="16.6" width="4.6" height="4.6" fill="#000"/>
<rect x="306.67" y="39.5" width="4.6" height="4.6" fill="#000"/>
<rect x="325.94" y="75.4" width="4.6" height="4.6" fill="#000"/>
<rect x="364.48" y="72" width="4.6" height="4.6" fill="#000"/>
<rect x="441.56" y="87.3" width="4.6" height="4.6" fill="#000"/>
<polyline points="525.4,96.6 535.02,93.5 563.9,87 679.4,85" fill="none" stroke="#6e6e6e" stroke-width="1.15" stroke-linejoin="round"/>
<polyline points="525.4,98.6 527,40.2 530.21,39.3 535.02,27 544.65,39.3 563.9,55.2 602.4,55.3 679.4,68" fill="none" stroke="#4a4a4a" stroke-width="1" stroke-linejoin="round"/>
<line x1="530.21" y1="31.6" x2="530.21" y2="46.3" stroke="#111" stroke-width="1"/>
<line x1="528.01" y1="31.6" x2="532.41" y2="31.6" stroke="#111" stroke-width="1"/>
<line x1="528.01" y1="46.3" x2="532.41" y2="46.3" stroke="#111" stroke-width="1"/>
<line x1="544.65" y1="32.2" x2="544.65" y2="46.2" stroke="#111" stroke-width="1"/>
<line x1="542.45" y1="32.2" x2="546.85" y2="32.2" stroke="#111" stroke-width="1"/>
<line x1="542.45" y1="46.2" x2="546.85" y2="46.2" stroke="#111" stroke-width="1"/>
<line x1="563.9" y1="47.6" x2="563.9" y2="62.9" stroke="#111" stroke-width="1"/>
<line x1="561.7" y1="47.6" x2="566.1" y2="47.6" stroke="#111" stroke-width="1"/>
<line x1="561.7" y1="62.9" x2="566.1" y2="62.9" stroke="#111" stroke-width="1"/>
<line x1="602.4" y1="47.6" x2="602.4" y2="62.9" stroke="#111" stroke-width="1"/>
<line x1="600.2" y1="47.6" x2="604.6" y2="47.6" stroke="#111" stroke-width="1"/>
<line x1="600.2" y1="62.9" x2="604.6" y2="62.9" stroke="#111" stroke-width="1"/>
<line x1="679.4" y1="65.5" x2="679.4" y2="70.5" stroke="#111" stroke-width="1"/>
<line x1="677.2" y1="65.5" x2="681.6" y2="65.5" stroke="#111" stroke-width="1"/>
<line x1="677.2" y1="70.5" x2="681.6" y2="70.5" stroke="#111" stroke-width="1"/>
<line x1="525.4" y1="95.5" x2="525.4" y2="101.5" stroke="#111" stroke-width="1"/>
<line x1="523.2" y1="95.5" x2="527.6" y2="95.5" stroke="#111" stroke-width="1"/>
<line x1="523.2" y1="101.5" x2="527.6" y2="101.5" stroke="#111" stroke-width="1"/>
<circle cx="525.4" cy="96.6" r="2.3" fill="#000"/>
<circle cx="535.02" cy="93.5" r="2.3" fill="#000"/>
<circle cx="563.9" cy="87" r="2.3" fill="#000"/>
<circle cx="679.4" cy="85" r="2.3" fill="#000"/>
<rect x="523.1" y="96.3" width="4.6" height="4.6" fill="#000"/>
<rect x="524.7" y="37.9" width="4.6" height="4.6" fill="#000"/>
<rect x="527.91" y="37" width="4.6" height="4.6" fill="#000"/>
<rect x="532.73" y="24.7" width="4.6" height="4.6" fill="#000"/>
<rect x="542.35" y="37" width="4.6" height="4.6" fill="#000"/>
<rect x="561.6" y="52.9" width="4.6" height="4.6" fill="#000"/>
<rect x="600.1" y="53" width="4.6" height="4.6" fill="#000"/>
<rect x="677.1" y="65.7" width="4.6" height="4.6" fill="#000"/>
<polyline points="289.7,212 299.33,211.3 328.24,209.2 443.86,210.9" fill="none" stroke="#6e6e6e" stroke-width="1.15" stroke-linejoin="round"/>
<polyline points="289.7,203 291.3,186 294.52,181.5 299.33,191.7 308.97,200.2 328.24,225.6 366.78,219.4 443.86,233.3" fill="none" stroke="#4a4a4a" stroke-width="1" stroke-linejoin="round"/>
<line x1="289.7" y1="198.3" x2="289.7" y2="207.2" stroke="#111" stroke-width="1"/>
<line x1="287.5" y1="198.3" x2="291.9" y2="198.3" stroke="#111" stroke-width="1"/>
<line x1="287.5" y1="207.2" x2="291.9" y2="207.2" stroke="#111" stroke-width="1"/>
<line x1="291.3" y1="183" x2="291.3" y2="189.5" stroke="#111" stroke-width="1"/>
<line x1="289.1" y1="183" x2="293.5" y2="183" stroke="#111" stroke-width="1"/>
<line x1="289.1" y1="189.5" x2="293.5" y2="189.5" stroke="#111" stroke-width="1"/>
<line x1="294.52" y1="173" x2="294.52" y2="184" stroke="#111" stroke-width="1"/>
<line x1="292.32" y1="173" x2="296.72" y2="173" stroke="#111" stroke-width="1"/>
<line x1="292.32" y1="184" x2="296.72" y2="184" stroke="#111" stroke-width="1"/>
<line x1="308.97" y1="196.6" x2="308.97" y2="203.9" stroke="#111" stroke-width="1"/>
<line x1="306.77" y1="196.6" x2="311.17" y2="196.6" stroke="#111" stroke-width="1"/>
<line x1="306.77" y1="203.9" x2="311.17" y2="203.9" stroke="#111" stroke-width="1"/>
<line x1="366.78" y1="209.9" x2="366.78" y2="228.5" stroke="#111" stroke-width="1"/>
<line x1="364.58" y1="209.9" x2="368.98" y2="209.9" stroke="#111" stroke-width="1"/>
<line x1="364.58" y1="228.5" x2="368.98" y2="228.5" stroke="#111" stroke-width="1"/>
<line x1="299.33" y1="207.1" x2="299.33" y2="215.4" stroke="#111" stroke-width="1"/>
<line x1="297.13" y1="207.1" x2="301.53" y2="207.1" stroke="#111" stroke-width="1"/>
<line x1="297.13" y1="215.4" x2="301.53" y2="215.4" stroke="#111" stroke-width="1"/>
<line x1="443.86" y1="231" x2="443.86" y2="235.6" stroke="#111" stroke-width="1"/>
<line x1="441.66" y1="231" x2="446.06" y2="231" stroke="#111" stroke-width="1"/>
<line x1="441.66" y1="235.6" x2="446.06" y2="235.6" stroke="#111" stroke-width="1"/>
<circle cx="289.7" cy="212" r="2.3" fill="#000"/>
<circle cx="299.33" cy="211.3" r="2.3" fill="#000"/>
<circle cx="328.24" cy="209.2" r="2.3" fill="#000"/>
<circle cx="443.86" cy="210.9" r="2.3" fill="#000"/>
<rect x="287.4" y="200.7" width="4.6" height="4.6" fill="#000"/>
<rect x="289" y="183.7" width="4.6" height="4.6" fill="#000"/>
<rect x="292.22" y="179.2" width="4.6" height="4.6" fill="#000"/>
<rect x="297.03" y="189.4" width="4.6" height="4.6" fill="#000"/>
<rect x="306.67" y="197.9" width="4.6" height="4.6" fill="#000"/>
<rect x="325.94" y="223.3" width="4.6" height="4.6" fill="#000"/>
<rect x="364.48" y="217.1" width="4.6" height="4.6" fill="#000"/>
<rect x="441.56" y="231" width="4.6" height="4.6" fill="#000"/>
<polyline points="527.4,187.8 536.98,196 565.72,207.1 680.68,200.6" fill="none" stroke="#6e6e6e" stroke-width="1.15" stroke-linejoin="round"/>
<polyline points="527.4,190.9 528.99,254.4 532.19,256.1 536.98,254.4 546.56,243.6 565.72,218.9 604.04,217.4 680.68,195" fill="none" stroke="#4a4a4a" stroke-width="1" stroke-linejoin="round"/>
<circle cx="527.4" cy="187.8" r="2.3" fill="#000"/>
<circle cx="536.98" cy="196" r="2.3" fill="#000"/>
<circle cx="565.72" cy="207.1" r="2.3" fill="#000"/>
<circle cx="680.68" cy="200.6" r="2.3" fill="#000"/>
<rect x="525.1" y="188.6" width="4.6" height="4.6" fill="#000"/>
<rect x="526.69" y="252.1" width="4.6" height="4.6" fill="#000"/>
<rect x="529.89" y="253.8" width="4.6" height="4.6" fill="#000"/>
<rect x="534.68" y="252.1" width="4.6" height="4.6" fill="#000"/>
<rect x="544.26" y="241.3" width="4.6" height="4.6" fill="#000"/>
<rect x="563.42" y="216.6" width="4.6" height="4.6" fill="#000"/>
<rect x="601.74" y="215.1" width="4.6" height="4.6" fill="#000"/>
<rect x="678.38" y="192.7" width="4.6" height="4.6" fill="#000"/>
<line x1="376" y1="6.9" x2="387" y2="6.9" stroke="#222" stroke-width="1"/>
<circle cx="381.3" cy="6.9" r="2.2" fill="#000"/>
<text x="393.6" y="10.3" font-size="8.4" font-weight="bold" fill="#000" stroke="#000" stroke-width="0.25" textLength="13.3" lengthAdjust="spacingAndGlyphs">WT</text>
<line x1="376" y1="19.4" x2="387" y2="19.4" stroke="#222" stroke-width="1"/>
<rect x="379.1" y="17.2" width="4.4" height="4.4" fill="#000"/>
<text x="393.6" y="22.8" font-size="8.4" font-weight="bold" fill="#000" stroke="#000" stroke-width="0.25" textLength="22.4" lengthAdjust="spacingAndGlyphs">HGT1</text>
</g>
</svg></div>
</body></html>
